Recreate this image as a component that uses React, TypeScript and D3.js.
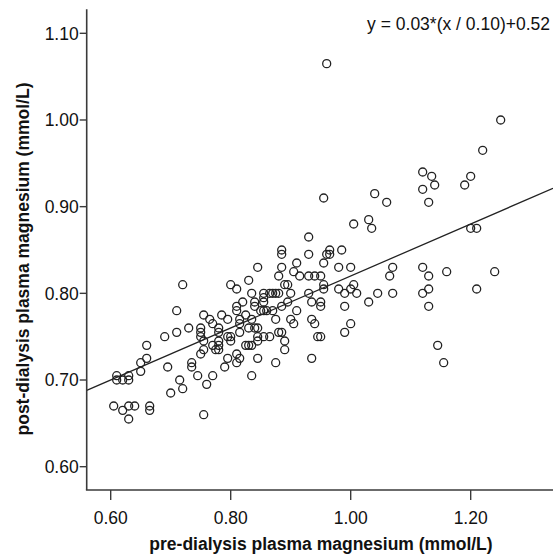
import React from "react";
import * as d3 from "d3";

// pre-dialysis (x) and post-dialysis (y) plasma magnesium, mmol/L
const preRight = [0.96,1.25,1.22,1.12,1.135,1.14,1.12,1.13,1.19,1.20,1.20,1.21,0.955,1.04,1.06,1.005,1.03,1.035,0.93,
  0.93,0.965,0.96,0.965,0.985,0.955,0.98,1.00,1.07,1.12,1.13,1.16,1.24,1.21,1.065,0.93,0.94,0.95,0.955,0.955,0.93,0.98,0.99,1.00,1.005,1.01,1.045,1.07,1.12,1.13,1.13,1.03,0.935,0.95,0.95,0.99,0.935,0.94,1.00,0.99,0.945,0.95,0.935,1.145,1.155];
const postRight = [1.065,1.00,0.965,0.94,0.935,0.925,0.92,0.905,0.925,0.935,0.875,0.875,0.91,0.915,0.905,0.88,0.885,0.875,0.865,
  0.845,0.85,0.845,0.845,0.85,0.835,0.83,0.83,0.83,0.83,0.82,0.825,0.825,0.805,0.82,0.82,0.82,0.82,0.81,0.805,0.80,0.805,0.80,0.805,0.81,0.80,0.80,0.80,0.80,0.805,0.785,0.79,0.79,0.79,0.785,0.785,0.77,0.765,0.765,0.755,0.75,0.75,0.725,0.74,0.72];

const preLeft = [0.71,0.73,0.71,0.69,0.66,0.66,0.65,0.65,0.695,0.735,0.735,0.715,0.72,0.70,0.61,0.61,0.62,0.63,0.63,0.605,0.62,0.63,0.64,0.63,0.665,0.665,0.72];
const postLeft = [0.78,0.76,0.755,0.75,0.74,0.725,0.72,0.71,0.715,0.72,0.715,0.70,0.69,0.685,0.705,0.70,0.70,0.70,0.705,0.67,0.665,0.67,0.67,0.655,0.67,0.665,0.81];

const preMid = [0.755,0.765,0.77,0.785,0.795, 0.75,0.75,0.75, 0.78,0.78, 0.795,0.80, 0.755, 0.78,0.77,0.78,0.775,0.78,
  0.755,0.75,0.80,0.795, 0.81,0.81, 0.815,0.79,0.77,0.76,0.755,0.745,0.835,0.845,0.875, 0.825,0.83,0.835, 0.845,
  0.855,0.865, 0.845, 0.88,0.885, 0.89,0.89, 0.815, 0.83,0.84,0.845, 0.815,0.815, 0.835,0.825,0.875,0.90,0.905,
  0.85,0.855,0.86, 0.87,0.91, 0.81,0.81, 0.84,0.885, 0.82,0.84, 0.895, 0.855,0.855, 0.835, 0.855,0.865,0.87,0.875,0.88,
  0.90,0.80,0.81,0.83, 0.89,0.895, 0.88,0.915,0.905,0.91,0.845,0.885, 0.885,0.885];
const postMid = [0.775,0.77,0.765,0.775,0.77, 0.76,0.755,0.75, 0.76,0.755, 0.75,0.75, 0.745, 0.745,0.74,0.74,0.735,0.735,
  0.735,0.73,0.745,0.725, 0.73,0.72, 0.725,0.715,0.705,0.695,0.66,0.705,0.705,0.725,0.72, 0.74,0.74,0.74, 0.745,
  0.75,0.75, 0.75, 0.755,0.755, 0.745,0.735, 0.755, 0.76,0.76,0.76, 0.77,0.765, 0.77,0.775,0.77,0.77,0.765,
  0.78,0.78,0.78, 0.78,0.78, 0.785,0.78, 0.785,0.785, 0.79,0.79, 0.79, 0.795,0.79, 0.80, 0.80,0.80,0.80,0.80,0.80,
  0.80,0.81,0.805,0.815, 0.81,0.81, 0.82,0.82,0.825,0.835,0.83,0.83, 0.85,0.845];

const xTicks = [0.6, 0.8, 1.0, 1.2];
const yTicks = [0.6, 0.7, 0.8, 0.9, 1.0, 1.1];
const fitSlope = 0.03 / 0.10;
const fitIntercept = 0.52;
const equationLabel = "y = 0.03*(x / 0.10)+0.52";
const xTitle = "pre-dialysis plasma magnesium (mmol/L)";
const yTitle = "post-dialysis plasma magnesium (mmol/L)";

const W = 553, H = 554;
const FONT = "'Liberation Sans', Arial, Helvetica, sans-serif";

export default function App() {
  const pre = [...preRight, ...preLeft, ...preMid];
  const post = [...postRight, ...postLeft, ...postMid];
  const x = d3.scaleLinear().domain([0.56, 1.3372]).range([86.7, 553]);
  const y = d3.scaleLinear().domain([0.5731, 1.1277]).range([490, 9.3]);
  const [x0, x1] = x.domain();
  const line = d3.line<number>().x((v) => x(v)).y((v) => y(fitSlope * v + fitIntercept));
  const axisColor = "#3a3a3a";
  return (
    <svg width={W} height={H} style={{ position: "absolute", left: 0, top: 0, background: "#fff" }} fontFamily={FONT}>
      <rect x={0} y={0} width={W} height={H} fill="#fff" />
      {/* regression line */}
      <path d={line([x0, x1]) || ""} fill="none" stroke="#222" strokeWidth={1.3} />
      {/* points */}
      {pre.map((v, i) => (
        <circle key={i} cx={x(v)} cy={y(post[i])} r={4} fill="none" stroke="#222" strokeWidth={1.3} />
      ))}
      {/* axes */}
      <line x1={x(x0)} x2={x(x0)} y1={y.range()[1]} y2={y.range()[0]} stroke={axisColor} strokeWidth={1.6} />
      <line x1={x(x0) - 0.8} x2={W} y1={y.range()[0]} y2={y.range()[0]} stroke={axisColor} strokeWidth={1.6} />
      {yTicks.map((t) => (
        <g key={t}>
          <line x1={x(x0) - 7} x2={x(x0)} y1={y(t)} y2={y(t)} stroke={axisColor} strokeWidth={1.4} />
          <text x={x(x0) - 8} y={y(t)} dy="0.36em" textAnchor="end" fontSize={17.5} fill="#111">{t.toFixed(2)}</text>
        </g>
      ))}
      {xTicks.map((t) => (
        <g key={t}>
          <line x1={x(t)} x2={x(t)} y1={490} y2={500} stroke={axisColor} strokeWidth={1.4} />
          <text x={x(t)} y={524} textAnchor="middle" fontSize={17.5} fill="#111">{t.toFixed(2)}</text>
        </g>
      ))}
      <text x={321} y={550} textAnchor="middle" fontSize={17.5} fontWeight="bold" fill="#111">{xTitle}</text>
      <text transform={`translate(29,259) rotate(-90)`} textAnchor="middle" fontSize={17.5} fontWeight="bold" fill="#111">{yTitle}</text>
      <text x={550} y={30} textAnchor="end" fontSize={17.5} fill="#111">{equationLabel}</text>
    </svg>
  );
}
